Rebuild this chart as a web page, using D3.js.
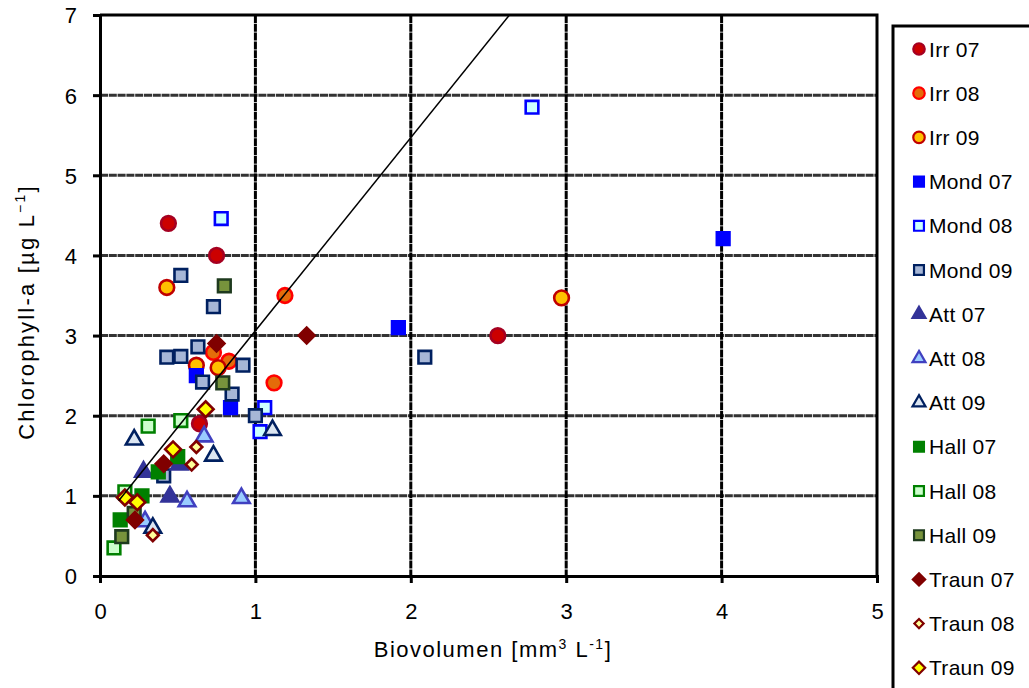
<!DOCTYPE html>
<html>
<head>
<meta charset="utf-8">
<script src="https://cdn.jsdelivr.net/npm/d3@7"></script>
<style>
  html, body { margin: 0; padding: 0; background: #fff; }
  svg { display: block; font-family: "Liberation Sans", Arial, sans-serif; }
</style>
</head>
<body>
<svg id="chart" width="1029" height="688"></svg>
<script>
// series values [biovolume, chlorophyll-a]
const irr07 = [[0.44, 4.4], [0.75, 4.0], [0.64, 1.9], [2.56, 3.0]];
const irr08 = [[0.73, 2.79], [0.83, 2.68], [1.12, 2.41], [1.19, 3.5]];
const irr09 = [[0.43, 3.6], [0.62, 2.63], [0.76, 2.6], [2.97, 3.47]];
const mond07 = [[0.62, 2.5], [0.84, 2.1], [1.92, 3.1], [4.01, 4.21]];
const mond08 = [[0.78, 4.46], [1.03, 1.8], [1.06, 2.1], [2.78, 5.85]];
const mond09 = [[0.41, 1.25], [0.43, 2.73], [0.52, 2.74], [0.52, 3.75], [0.63, 2.86], [0.66, 2.42],
                [0.73, 3.36], [0.85, 2.27], [0.92, 2.63], [1.0, 2.0], [2.09, 2.73]];
const att07 = [[0.28, 1.3], [0.51, 1.39], [0.45, 0.99]];
const att08 = [[0.29, 0.68], [0.56, 0.93], [0.67, 1.74], [0.91, 0.97]];
const att09 = [[0.22, 1.7], [0.34, 0.6], [0.73, 1.5], [1.11, 1.82]];
const hall07 = [[0.13, 0.7], [0.27, 1.0], [0.375, 1.3], [0.5, 1.49]];
const hall08 = [[0.09, 0.35], [0.16, 1.05], [0.31, 1.87], [0.52, 1.94]];
const hall09 = [[0.14, 0.49], [0.22, 0.78], [0.79, 2.41], [0.8, 3.62]];
const traun07 = [[0.225, 0.7], [0.41, 1.4], [0.75, 2.9], [1.33, 3.0]];
const traun08 = [[0.34, 0.51], [0.59, 1.39], [0.62, 1.61]];
const traun09 = [[0.16, 0.98], [0.24, 0.92], [0.47, 1.58], [0.68, 2.08]];

const seriesNames = ['Irr 07', 'Irr 08', 'Irr 09', 'Mond 07', 'Mond 08', 'Mond 09', 'Att 07', 'Att 08', 'Att 09',
                     'Hall 07', 'Hall 08', 'Hall 09', 'Traun 07', 'Traun 08', 'Traun 09'];
const seriesValues = [irr07, irr08, irr09, mond07, mond08, mond09, att07, att08, att09,
                      hall07, hall08, hall09, traun07, traun08, traun09];

const xTicks = [0, 1, 2, 3, 4, 5];
const yTicks = [0, 1, 2, 3, 4, 5, 6, 7];

// fitted line: y = a * x + b
const fitSlope = 2.41;
const fitIntercept = 0.65;
const fitRange = [0.12, 2.635];

// marker styles, same order as the series
const styles = [
  { shape: 'circle',   fill: '#cc0000', stroke: '#a50021' },
  { shape: 'circle',   fill: '#e46c0a', stroke: '#ff0000' },
  { shape: 'circle',   fill: '#ffc000', stroke: '#c00000' },
  { shape: 'square',   fill: '#0000ff', stroke: '#0000ff' },
  { shape: 'square',   fill: '#ccffff', stroke: '#0000ff' },
  { shape: 'square',   fill: '#a6b6d6', stroke: '#002060' },
  { shape: 'triangle', fill: '#333399', stroke: '#333399' },
  { shape: 'triangle', fill: '#99ccff', stroke: '#4040c0' },
  { shape: 'triangle', fill: '#dce6f2', stroke: '#002060' },
  { shape: 'square',   fill: '#008000', stroke: '#008000' },
  { shape: 'square',   fill: '#ccffcc', stroke: '#008000' },
  { shape: 'square',   fill: '#77933c', stroke: '#1e3a1e' },
  { shape: 'diamond',  fill: '#800000', stroke: '#800000' },
  { shape: 'diamond',  fill: '#ffff99', stroke: '#800000', small: true },
  { shape: 'diamond',  fill: '#ffff00', stroke: '#800000' }
];

const svg = d3.select('#chart');
const plotLeft = 100, plotRight = 877, plotTop = 15, plotBottom = 576;

const x = d3.scaleLinear().domain([0, 5]).range([plotLeft, plotRight]);
const y = d3.scaleLinear().domain([0, 7]).range([plotBottom, plotTop]);

function symbolPath(shape, scale, small) {
  const k = scale * (small ? 0.75 : 1);
  if (shape === 'circle') return d3.symbol(d3.symbolCircle, 170 * k * k)();
  if (shape === 'square') return d3.symbol(d3.symbolSquare, 160 * k * k)();
  if (shape === 'triangle') return d3.symbol(d3.symbolTriangle, 120 * k * k)();
  return d3.symbol(d3.symbolSquare, 125 * k * k)();
}

// grid
const grid = svg.append('g');
grid.selectAll('line.h')
  .data(yTicks.filter(t => t > 0 && t < 7))
  .join('line')
  .attr('class', 'h')
  .attr('x1', plotLeft).attr('x2', plotRight)
  .attr('y1', d => y(d)).attr('y2', d => y(d))
  .attr('stroke', '#333')
  .attr('stroke-width', 3)
  .attr('stroke-dasharray', '8,0.8');

grid.selectAll('line.v')
  .data(xTicks.filter(t => t > 0 && t < 5))
  .join('line')
  .attr('class', 'v')
  .attr('x1', d => x(d)).attr('x2', d => x(d))
  .attr('y1', plotTop).attr('y2', plotBottom)
  .attr('stroke', '#000')
  .attr('stroke-width', 3)
  .attr('stroke-dasharray', '8,0.8');

// frame top / right
svg.append('path')
  .attr('d', `M${plotLeft},${plotTop}H${plotRight}V${plotBottom}`)
  .attr('fill', 'none')
  .attr('stroke', '#000')
  .attr('stroke-width', 3);

// axes
const xAxis = svg.append('g')
  .attr('transform', `translate(0,${plotBottom})`)
  .call(d3.axisBottom(x).tickValues(xTicks).tickSize(7).tickPadding(20).tickFormat(d3.format('d')));
const yAxis = svg.append('g')
  .attr('transform', `translate(${plotLeft},0)`)
  .call(d3.axisLeft(y).tickValues(yTicks).tickSize(7).tickPadding(16).tickFormat(d3.format('d')));

[xAxis, yAxis].forEach(ax => {
  ax.select('.domain').attr('stroke', '#000').attr('stroke-width', 3);
  ax.selectAll('.tick line').attr('stroke', '#000').attr('stroke-width', 3);
  ax.selectAll('.tick text')
    .attr('fill', '#000')
    .attr('font-size', 22)
    .attr('font-family', '"Liberation Sans", Arial, sans-serif');
});
xAxis.selectAll('.tick text').attr('dy', '0.71em');
yAxis.selectAll('.tick text').attr('dy', '0.36em');

// axis titles
const xTitle = svg.append('text')
  .attr('x', 493).attr('y', 657)
  .attr('text-anchor', 'middle')
  .attr('font-size', 22)
  .attr('letter-spacing', 1.5);
xTitle.append('tspan').text('Biovolumen [mm');
xTitle.append('tspan').attr('font-size', 14).attr('dy', -8).text('3');
xTitle.append('tspan').attr('dy', 8).text(' L');
xTitle.append('tspan').attr('font-size', 14).attr('dy', -8).text('-1');
xTitle.append('tspan').attr('dy', 8).text(']');

const yTitle = svg.append('text')
  .attr('transform', 'translate(34,312) rotate(-90)')
  .attr('text-anchor', 'middle')
  .attr('font-size', 22)
  .attr('letter-spacing', 2.2);
yTitle.append('tspan').text('Chlorophyll-a [µg L');
yTitle.append('tspan').attr('font-size', 14).attr('dy', -9).text('\u22121');
yTitle.append('tspan').attr('dy', 9).text(']');

// markers
const plot = svg.append('g');
seriesValues.forEach((vals, i) => {
  const st = styles[i];
  plot.append('g')
    .selectAll('path')
    .data(vals)
    .join('path')
    .attr('d', symbolPath(st.shape, 1, st.small))
    .attr('transform', d => `translate(${x(d[0])},${y(d[1])})` + (st.shape === 'diamond' ? ' rotate(45)' : ''))
    .attr('fill', st.fill)
    .attr('stroke', st.stroke)
    .attr('stroke-width', 2.6);
});

// fitted line
svg.append('line')
  .attr('x1', x(fitRange[0])).attr('y1', y(fitSlope * fitRange[0] + fitIntercept))
  .attr('x2', x(fitRange[1])).attr('y2', y(fitSlope * fitRange[1] + fitIntercept))
  .attr('stroke', '#000')
  .attr('stroke-width', 1.5);

// legend
const legend = svg.append('g');
legend.append('rect')
  .attr('x', 893).attr('y', 26)
  .attr('width', 160).attr('height', 700)
  .attr('fill', '#fff')
  .attr('stroke', '#000')
  .attr('stroke-width', 3);

const item = legend.selectAll('g.item')
  .data(seriesNames)
  .join('g')
  .attr('class', 'item')
  .attr('transform', (d, i) => `translate(0,${49 + i * 44.2})`);

item.append('path')
  .attr('d', (d, i) => symbolPath(styles[i].shape, 0.78, styles[i].small))
  .attr('transform', (d, i) => 'translate(919,0)' + (styles[i].shape === 'diamond' ? ' rotate(45)' : ''))
  .attr('fill', (d, i) => styles[i].fill)
  .attr('stroke', (d, i) => styles[i].stroke)
  .attr('stroke-width', 2.2);

item.append('text')
  .attr('x', 929)
  .attr('dy', '0.36em')
  .attr('font-size', 21)
  .attr('letter-spacing', 0.3)
  .text(d => d);
</script>
</body>
</html>
